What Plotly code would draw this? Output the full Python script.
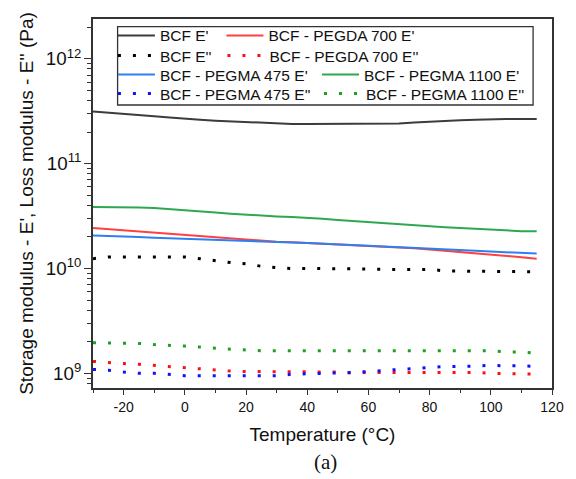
import plotly.graph_objects as go

# Temperature grid (°C)
temperature = [-30, -25, -20, -15, -10, -5, 0, 5, 10, 15, 20, 25, 30, 35, 40,
               45, 50, 55, 60, 65, 70, 75, 80, 85, 90, 95, 100, 105, 110, 115]

# Storage modulus E' (Pa)
bcf_E1 = [v * 1e11 for v in [3.15, 3.08, 3.00, 2.92, 2.84, 2.76, 2.68, 2.62, 2.57, 2.53,
                             2.49, 2.45, 2.41, 2.39, 2.39, 2.39, 2.39, 2.39, 2.40, 2.40,
                             2.42, 2.47, 2.52, 2.56, 2.60, 2.63, 2.66, 2.67, 2.67, 2.67]]
pegda700_E1 = [v * 1e10 for v in [2.44, 2.38, 2.31, 2.25, 2.20, 2.14, 2.08, 2.02, 1.97, 1.93,
                                  1.88, 1.84, 1.80, 1.78, 1.75, 1.72, 1.69, 1.67, 1.65, 1.63,
                                  1.60, 1.56, 1.52, 1.48, 1.44, 1.41, 1.37, 1.32, 1.28, 1.24]]
pegma475_E1 = [v * 1e10 for v in [2.06, 2.05, 2.03, 2.00, 1.97, 1.95, 1.93, 1.90, 1.88, 1.86,
                                  1.84, 1.82, 1.79, 1.77, 1.75, 1.73, 1.70, 1.67, 1.65, 1.62,
                                  1.60, 1.58, 1.56, 1.53, 1.50, 1.48, 1.45, 1.43, 1.41, 1.39]]
pegma1100_E1 = [v * 1e10 for v in [3.85, 3.85, 3.84, 3.82, 3.78, 3.70, 3.60, 3.50, 3.42, 3.33,
                                   3.25, 3.18, 3.14, 3.10, 3.05, 2.98, 2.90, 2.83, 2.77, 2.70,
                                   2.63, 2.56, 2.51, 2.47, 2.43, 2.39, 2.33, 2.28, 2.27, 2.27]]

# Loss modulus E'' (Pa)
bcf_E2 = [v * 1e10 for v in [1.24, 1.29, 1.29, 1.29, 1.29, 1.29, 1.29, 1.24, 1.18, 1.14,
                             1.11, 1.05, 1.02, 1.00, 1.00, 1.00, 0.99, 0.99, 0.99, 0.98,
                             0.98, 0.98, 0.98, 0.95, 0.94, 0.94, 0.94, 0.94, 0.94, 0.93]]
pegda700_E2 = [v * 1e9 for v in [1.30, 1.26, 1.24, 1.22, 1.19, 1.16, 1.12, 1.09, 1.07, 1.05,
                                 1.04, 1.04, 1.04, 1.04, 1.04, 1.03, 1.03, 1.00, 1.02, 1.02,
                                 1.02, 1.02, 1.02, 1.02, 1.02, 1.02, 1.00, 1.00, 0.99, 0.98]]
pegma475_E2 = [v * 1e9 for v in [1.09, 1.07, 1.03, 1.00, 1.00, 0.98, 0.95, 0.95, 0.95, 0.95,
                                 0.95, 0.95, 0.95, 0.98, 0.99, 0.99, 1.00, 1.02, 1.04, 1.07,
                                 1.09, 1.11, 1.13, 1.16, 1.16, 1.18, 1.19, 1.18, 1.18, 1.16]]
pegma1100_E2 = [v * 1e9 for v in [1.96, 1.96, 1.96, 1.93, 1.88, 1.86, 1.82, 1.78, 1.73, 1.70,
                                  1.67, 1.64, 1.64, 1.64, 1.64, 1.64, 1.64, 1.64, 1.64, 1.64,
                                  1.64, 1.64, 1.64, 1.64, 1.64, 1.64, 1.64, 1.60, 1.60, 1.55]]

# Axis tick labels
x_tick_vals = [-20, 0, 20, 40, 60, 80, 100, 120]
x_tick_text = ["-20", "0", "20", "40", "60", "80", "100", "120"]

FONT = "Liberation Sans, Arial, sans-serif"

fig = go.Figure()

def solid(y, name, color, legend):
    fig.add_trace(go.Scatter(x=temperature, y=y, name=name, mode="lines",
                             line=dict(color=color, width=2), legend=legend,
                             showlegend=True))

def dotted(y, name, color, legend):
    fig.add_trace(go.Scatter(x=temperature, y=y, name=name, mode="lines",
                             line=dict(color=color, width=3, dash="3px,12px"),
                             legend=legend, showlegend=True))

solid(bcf_E1, "BCF E'", "#3c3c3c", "legend")
solid(pegda700_E1, "BCF - PEGDA 700 E'", "#ff4040", "legend2")
dotted(bcf_E2, "BCF E''", "#000000", "legend3")
dotted(pegda700_E2, "BCF - PEGDA 700 E''", "#ff1010", "legend4")
solid(pegma475_E1, "BCF - PEGMA 475 E'", "#2f7ff0", "legend5")
solid(pegma1100_E1, "BCF - PEGMA 1100 E'", "#2ea850", "legend6")
dotted(pegma475_E2, "BCF - PEGMA 475 E''", "#1010ff", "legend7")
dotted(pegma1100_E2, "BCF - PEGMA 1100 E''", "#20a020", "legend8")

def px_x(p):
    return (p - 93) / 461.0

def px_y(p):
    return (388 - p) / 369.0

def leg(sample_x, row_y):
    return dict(orientation="h", x=px_x(sample_x - 5), y=px_y(row_y),
                xanchor="left", yanchor="middle", visible=True,
                bgcolor="rgba(0,0,0,0)", borderwidth=0, itemwidth=37,
                font=dict(family=FONT, size=15.5, color="#111"), itemclick=False)

fig.update_layout(
    width=576, height=479,
    showlegend=True,
    margin=dict(l=93, r=22, t=19, b=91),
    paper_bgcolor="white", plot_bgcolor="white",
    legend=leg(118, 35.8),
    legend2=leg(227, 35.8),
    legend3=leg(118, 56),
    legend4=leg(228, 56),
    legend5=leg(118, 75),
    legend6=leg(323, 75),
    legend7=leg(118, 94),
    legend8=leg(325, 94),
    xaxis=dict(range=[-30, 120], tickvals=x_tick_vals, ticktext=x_tick_text,
               showgrid=False, zeroline=False,
               showline=True, linecolor="#333", linewidth=1.5, mirror=True,
               ticks="outside", ticklen=5, tickwidth=1.2, tickcolor="#333",
               minor=dict(ticks="outside", tickvals=[-30, -10, 10, 30, 50, 70, 90, 110],
                          ticklen=3, tickcolor="#333"),
               tickfont=dict(family=FONT, size=14, color="#111"),
               title=dict(text="Temperature (°C)", standoff=14,
                          font=dict(family=FONT, size=19, color="#111"))),
    yaxis=dict(type="log", range=[8.86, 12.38], dtick=1, exponentformat="power",
               showgrid=False, zeroline=False,
               showline=True, linecolor="#333", linewidth=1.5, mirror=True,
               ticks="outside", ticklen=7, tickwidth=1.2, tickcolor="#333",
               minor=dict(ticks="outside", dtick="D1", ticklen=4, tickcolor="#333"),
               tickfont=dict(family=FONT, size=15, color="#111"),
               title=dict(text="Storage modulus - E', Loss modulus - E'' (Pa)", standoff=7,
                          font=dict(family=FONT, size=19, color="#111"))),
    shapes=[dict(type="rect", xref="paper", yref="paper",
                 x0=px_x(117.7), x1=px_x(535), y0=px_y(105), y1=px_y(26.7),
                 line=dict(color="#333", width=1.3))],
    annotations=[dict(text="(a)", xref="paper", yref="paper",
                      x=px_x(327), y=px_y(462), xanchor="center", yanchor="middle",
                      showarrow=False,
                      font=dict(family="Liberation Serif, Times New Roman, serif",
                                size=21, color="#111"))],
)

fig.write_html("out.html")
